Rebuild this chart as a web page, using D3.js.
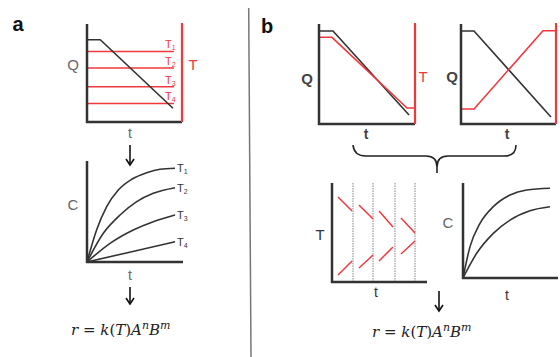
<!DOCTYPE html>
<html lang='en'>
<head>
  <meta charset='utf-8'/>
  <title>Schematic: Q, T, C versus t</title>
  <script src='https://d3js.org/d3.v7.min.js'></script>
  <style>
    body{margin:0;background:#ffffff;}
    svg{display:block;font-family:'Liberation Sans',Arial,sans-serif;}
  </style>
</head>
<body>
<svg id='chart'></svg>
<script>
// Data (fractions of each small panel: t along x, value along y)
const aFlowLine   = [[0, 0.84], [0.14, 0.84], [0.905, 0.14]];
const aTempLevels = [0.72, 0.55, 0.36, 0.19];
const aTempLabels = ['1', '2', '3', '4'];
const aConcCurves = [
  [[0,0],[0.1,0.317],[0.205,0.548],[0.326,0.713],[0.466,0.819],[0.622,0.884],[0.76,0.918],[0.917,0.928]],
  [[0,0],[0.17,0.284],[0.344,0.465],[0.518,0.597],[0.69,0.68],[0.917,0.736]],
  [[0,0],[0.24,0.185],[0.482,0.317],[0.69,0.399],[0.917,0.465]],
  [[0,0],[0.466,0.102],[0.917,0.2]]
];

const b1Flow = [[0, 0.93], [0.146, 0.93], [0.938, 0.09]];
const b1Temp = [[0, 0.867], [0.135, 0.867], [0.917, 0.16], [1, 0.16]];
const b2Flow = [[0, 0.93], [0.137, 0.93], [0.947, 0.07]];
const b2Temp = [[0, 0.15], [0.137, 0.15], [0.863, 0.933], [1, 0.933]];

const bSwitchTimes = [0.221, 0.432, 0.663, 0.874];
const bTempDown = [[0.063,0.859,0.211,0.717],[0.284,0.778,0.432,0.636],[0.495,0.717,0.642,0.556],[0.726,0.646,0.874,0.495]];
const bTempUp   = [[0.063,0.071,0.211,0.212],[0.284,0.141,0.432,0.273],[0.495,0.212,0.642,0.354],[0.726,0.283,0.874,0.414]];
const bConcCurves = [
  [[0,0],[0.074,0.33],[0.179,0.575],[0.319,0.751],[0.495,0.874],[0.67,0.926],[0.916,0.944]],
  [[0,0],[0.144,0.26],[0.319,0.47],[0.495,0.61],[0.705,0.708],[0.916,0.75]]
];

// Settings
const W = 560, H = 357;
const dark = '#333', red = '#f0393d', grey = '#666';

const svg = d3.select('#chart').attr('width', W).attr('height', H);

function panel(x0, x1, y0, y1) {
  return {
    x: d3.scaleLinear().domain([0, 1]).range([x0, x1]),
    y: d3.scaleLinear().domain([0, 1]).range([y1, y0]),
    x0, x1, y0, y1
  };
}

function axes(p, rightRed) {
  svg.append('path')
    .attr('d', `M${p.x0},${p.y0}V${p.y1}H${p.x1}`)
    .attr('fill', 'none').attr('stroke', dark).attr('stroke-width', 2.5);
  if (rightRed) {
    svg.append('line')
      .attr('x1', p.x1).attr('x2', p.x1).attr('y1', p.y0 - 1).attr('y2', p.y1)
      .attr('stroke', red).attr('stroke-width', 2.2);
  }
}

function series(p, pts, color, curve) {
  const line = d3.line().x(d => p.x(d[0])).y(d => p.y(d[1])).curve(curve || d3.curveLinear);
  svg.append('path').attr('d', line(pts))
    .attr('fill', 'none').attr('stroke', color).attr('stroke-width', 1.6);
}

function label(x, y, txt, opts) {
  opts = opts || {};
  return svg.append('text').attr('x', x).attr('y', y)
    .attr('text-anchor', opts.anchor || 'middle')
    .attr('font-size', opts.size || 14)
    .attr('font-weight', opts.weight || 'normal')
    .attr('fill', opts.fill || dark)
    .text(txt);
}

function arrow(x, y0, y1) {
  svg.append('line').attr('x1', x).attr('x2', x).attr('y1', y0).attr('y2', y1 - 1)
    .attr('stroke', '#111').attr('stroke-width', 1.6);
  svg.append('path').attr('d', `M${x - 4},${y1 - 6}L${x},${y1}L${x + 4},${y1 - 6}`)
    .attr('fill', 'none').attr('stroke', '#111').attr('stroke-width', 1.6);
}

function formula(x, y) {
  const t = svg.append('text').attr('x', x).attr('y', y)
    .attr('font-family', "'DejaVu Serif','Liberation Serif',serif")
    .attr('font-style', 'italic').attr('font-size', 15).attr('fill', '#222');
  t.append('tspan').text('r');
  t.append('tspan').attr('font-style', 'normal').text(' = ');
  t.append('tspan').text('k');
  t.append('tspan').attr('font-style', 'normal').text('(');
  t.append('tspan').text('T');
  t.append('tspan').attr('font-style', 'normal').text(')');
  t.append('tspan').text('A');
  t.append('tspan').attr('dy', -6).attr('font-size', 11).text('n');
  t.append('tspan').attr('dy', 6).text('B');
  t.append('tspan').attr('dy', -6).attr('font-size', 11).text('m');
}

// Divider
svg.append('line').attr('x1', 248.7).attr('y1', 8).attr('x2', 251).attr('y2', H)
  .attr('stroke', '#777').attr('stroke-width', 1.5);

// Panel labels
label(18, 31, 'a', {size: 20, weight: 'bold', fill: '#111'});
label(267, 33, 'b', {size: 20, weight: 'bold', fill: '#111'});

// ---- a: flow with temperature levels
const pa1 = panel(87, 182, 24, 122);
aTempLevels.forEach((lv, i) => {
  svg.append('line')
    .attr('x1', pa1.x(0)).attr('x2', pa1.x(0.915))
    .attr('y1', pa1.y(lv)).attr('y2', pa1.y(lv))
    .attr('stroke', red).attr('stroke-width', 1.5);
  const tl = svg.append('text').attr('x', pa1.x(0.82)).attr('y', pa1.y(lv) - 3)
    .attr('font-size', 11).attr('fill', red);
  tl.append('tspan').text('T');
  tl.append('tspan').attr('font-size', 7).attr('dy', 2).text(aTempLabels[i]);
});
series(pa1, aFlowLine, dark);
axes(pa1, true);
label(73, 70, 'Q', {size: 15, fill: grey});
label(193, 70, 'T', {size: 15, fill: red});
label(130, 138, 't', {size: 14, fill: grey});
arrow(130, 145, 165);

// ---- a: concentration curves
const pa2 = panel(87, 183, 161, 262);
aConcCurves.forEach((c, i) => {
  series(pa2, c, dark, d3.curveMonotoneX);
  const last = c[c.length - 1];
  const tl = svg.append('text').attr('x', pa2.x(last[0]) + 2).attr('y', pa2.y(last[1]) + 4)
    .attr('font-size', 11).attr('fill', dark);
  tl.append('tspan').text('T');
  tl.append('tspan').attr('font-size', 7).attr('dy', 2).text(aTempLabels[i]);
});
axes(pa2, false);
label(73, 210, 'C', {size: 15, fill: grey});
label(130, 280, 't', {size: 14, fill: grey});
arrow(130, 287, 304);
formula(71, 335);

// ---- b: two flow profiles
const pb1 = panel(319, 415, 24, 124);
series(pb1, b1Flow, dark);
series(pb1, b1Temp, red);
axes(pb1, true);
label(307, 84, 'Q', {size: 15, weight: 'bold', fill: '#444'});
label(423, 82, 'T', {size: 15, fill: red});
label(366, 139, 't', {size: 14, weight: 'bold', fill: '#444'});

const pb2 = panel(461, 556, 24, 124);
series(pb2, b2Flow, dark);
series(pb2, b2Temp, red);
axes(pb2, true);
label(452, 82, 'Q', {size: 15, weight: 'bold', fill: '#444'});
label(507, 139, 't', {size: 14, weight: 'bold', fill: '#444'});

// Brace
svg.append('path')
  .attr('d', 'M353,145 Q354,156 366,156 L426,156 Q437,156 437,167 L437,173 M437,167 Q437,156 448,156 L504,156 Q516,156 516,145')
  .attr('fill', 'none').attr('stroke', '#222').attr('stroke-width', 1.6);

// ---- b: temperature pulses
const pb3 = panel(332, 427, 183, 282);
bSwitchTimes.forEach(s => {
  svg.append('line').attr('x1', pb3.x(s)).attr('x2', pb3.x(s))
    .attr('y1', pb3.y(1)).attr('y2', pb3.y(0))
    .attr('stroke', '#999').attr('stroke-width', 1.2).attr('stroke-dasharray', '1.5,1');
});
bTempDown.concat(bTempUp).forEach(s => {
  svg.append('line')
    .attr('x1', pb3.x(s[0])).attr('y1', pb3.y(s[1]))
    .attr('x2', pb3.x(s[2])).attr('y2', pb3.y(s[3]))
    .attr('stroke', red).attr('stroke-width', 1.5);
});
axes(pb3, false);
label(320, 240, 'T', {size: 15, fill: dark});
label(376, 297, 't', {size: 14, fill: dark});

// ---- b: concentration curves
const pb4 = panel(463, 558, 183, 278);
bConcCurves.forEach(c => series(pb4, c, dark, d3.curveMonotoneX));
axes(pb4, false);
label(448, 228, 'C', {size: 15, fill: grey});
label(507, 300, 't', {size: 14, fill: dark});

arrow(439, 291, 311);
formula(372, 337);
</script>
</body>
</html>
